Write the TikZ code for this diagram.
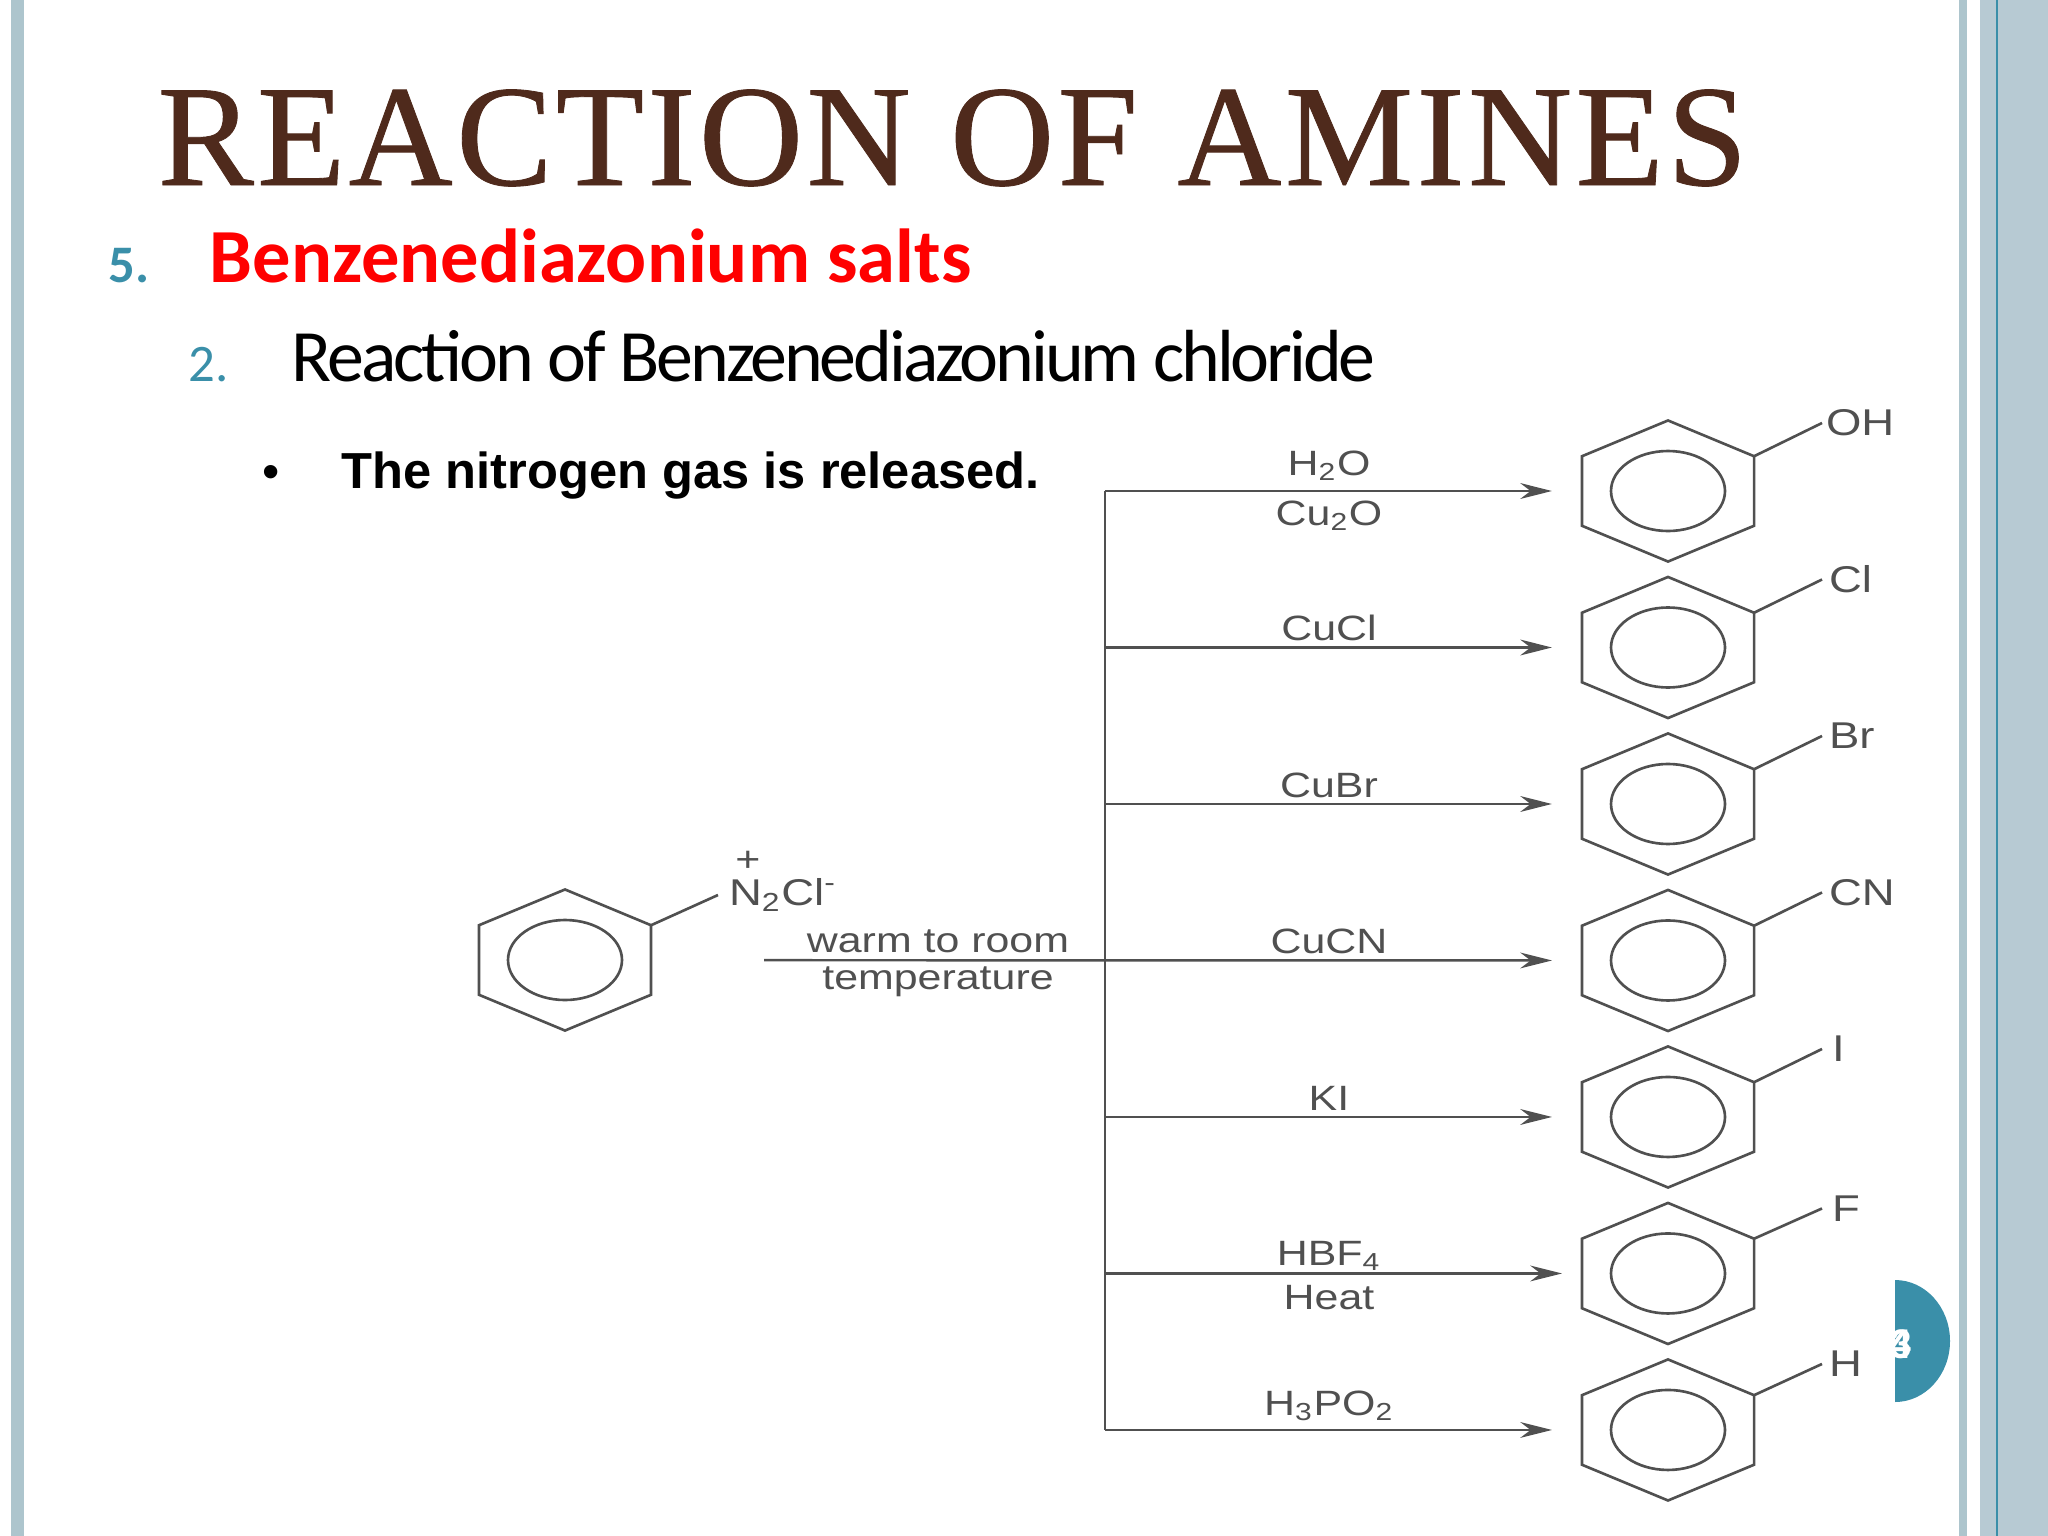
\documentclass[tikz,border=0pt]{standalone}
\usepackage{fontspec}
\setmainfont{Liberation Sans}
\newfontfamily\titlefont[LetterSpace=2.4,FakeBold=0.6]{Liberation Serif}
\newfontfamily\slidefont{Carlito}
\newfontfamily\tightfont[LetterSpace=-4.2]{Carlito}
\newfontfamily\chemfont[FakeStretch=1.22]{Liberation Sans}
\usepackage{tikz}
\usetikzlibrary{positioning,calc,arrows.meta}

\definecolor{barblue}{HTML}{B7CAD3}
\definecolor{barside}{HTML}{ADC5CD}
\definecolor{tealnum}{HTML}{3A8FA9}
\definecolor{titlebrown}{HTML}{4F2A1C}
\definecolor{inkgray}{HTML}{505050}

\tikzset{
  ring/.style={minimum width=1.72cm,minimum height=1.41cm,inner sep=0pt,outer sep=0pt},
  bond/.style={draw=inkgray,line width=0.75pt},
  branch/.style={-{Stealth[length=9pt,width=4.5pt]},draw=inkgray,line width=0.7pt,shorten >=0.30cm},
  reagent/.style={font=\chemfont\fontsize{10}{12}\selectfont,text=inkgray,inner sep=1pt},
  subst/.style={font=\chemfont\fontsize{10.6}{12}\selectfont,text=inkgray,anchor=west,inner sep=0.07cm,outer sep=0pt},
  pagedigit/.style={text=white,anchor=east,font=\slidefont\bfseries\fontsize{12.5}{14}\selectfont,inner sep=0pt},
  head/.style={anchor=base west,inner sep=0pt},
  node distance=0.154cm
}
\newcommand{\benzene}[1]{\draw[bond] (#1.north) -- (#1.22) -- (#1.338) -- (#1.south) -- (#1.202) -- (#1.158) -- cycle;
\draw[bond] (#1.center) ellipse [x radius=57,y radius=40];}
\newcommand{\sbs}[1]{\textsubscript{#1}}

\begin{document}
\begin{tikzpicture}[x=0.01cm,y=-0.01cm]
\useasboundingbox (0,0) rectangle (2048,1536);
% side bars
\fill[barside] (11,0) rectangle (24,1536);
\fill[barside] (1959,0) rectangle (1967,1536);
\fill[barblue] (1980,0) rectangle (2048,1536);
\fill[tealnum] (1996,0) rectangle (1998,1536);
% page number
\fill[tealnum] (1895,1280) arc [start angle=-90,end angle=90,x radius=55,y radius=61] -- cycle;
\begin{scope}
\clip (1895,1280) rectangle (1950,1402);
\node (pagea) [pagedigit] at (1912,1344) {3};
\node (pageb) [pagedigit] at (1912,1344) {4};
\end{scope}
% text
\node (title) [head,text=titlebrown,font=\titlefont\fontsize{41}{48}\selectfont] at (157,185) {REACTION OF AMINES};
\node (numa) [head,text=tealnum,font=\slidefont\bfseries\fontsize{15}{18}\selectfont] at (108,282) {5.};
\node (heada) [head,text=red,font=\slidefont\bfseries\fontsize{21.75}{26}\selectfont] at (209,282) {Benzenediazonium salts};
\node (numb) [head,text=tealnum,font=\slidefont\fontsize{15}{18}\selectfont] at (188,381) {2.};
\node (headb) [head,font=\tightfont\fontsize{21}{26}\selectfont] at (291,381) {Reaction of Benzenediazonium chloride};
\node (dot) [head,font=\fontsize{14}{17}\selectfont] at (262,488) {•};
\node (note) [head,font=\bfseries\fontsize{14.4}{17}\selectfont] at (341,488) {The nitrogen gas is released.};
% rings
\node (ringa) [ring] at (1668,491) {};
\node (ringb) [ring,below=of ringa] {};
\node (ringc) [ring,below=of ringb] {};
\node (ringd) [ring,below=of ringc] {};
\node (ringe) [ring,below=of ringd] {};
\node (ringf) [ring,below=of ringe] {};
\node (ringg) [ring,below=of ringf] {};
\node (ringh) [ring] at (565,960) {};
\benzene{ringa}
\benzene{ringb}
\benzene{ringc}
\benzene{ringd}
\benzene{ringe}
\benzene{ringf}
\benzene{ringg}
\benzene{ringh}
% substituents
\node (oh) [subst,inner xsep=0.04cm] at ($(ringa.center)+(154,-68)$) {OH};
\node (cl) [subst] at ($(ringb.center)+(154,-68)$) {Cl};
\node (br) [subst] at ($(ringc.center)+(154,-68)$) {Br};
\node (cn) [subst] at ($(ringd.center)+(154,-68)$) {CN};
\node (iod) [subst,inner xsep=0.1cm] at ($(ringe.center)+(154,-68)$) {I};
\node (flu) [subst,inner xsep=0.1cm] at ($(ringf.center)+(154,-65)$) {F};
\node (hyd) [subst] at ($(ringg.center)+(154,-66)$) {H};
\node (salt) [subst,inner xsep=0.11cm] at (718,895) {N\sbs{2}Cl\textsuperscript{-}};
\node (plus) [reagent,inner sep=0pt] at (748,861) {+};
\draw[bond] (ringa.22) -- (oh.west);
\draw[bond] (ringb.22) -- (cl.west);
\draw[bond] (ringc.22) -- (br.west);
\draw[bond] (ringd.22) -- (cn.west);
\draw[bond] (ringe.22) -- (iod.west);
\draw[bond] (ringf.22) -- (flu.west);
\draw[bond] (ringg.22) -- (hyd.west);
\draw[bond] (ringh.22) -- (salt.west);
% trunk and branches
\coordinate (feed) at (764,960.2);
\coordinate (ja) at (1105,491);
\coordinate (jb) at (ja |- ringb.west);
\coordinate (jc) at (ja |- ringc.west);
\coordinate (je) at (ja |- ringe.west);
\coordinate (jf) at (ja |- ringf.west);
\coordinate (jg) at (ja |- ringg.west);
\draw[bond] (ja)--(jg);
\draw[branch] (ja)--(ringa.west);
\draw[branch] (jb)--(ringb.west);
\draw[branch] (jc)--(ringc.west);
\draw[branch] (feed)--(ringd.west);
\draw[branch] (je)--(ringe.west);
\draw[branch,shorten >=0.20cm] (jf)--(ringf.west);
\draw[branch] (jg)--(ringg.west);
% reagents
\node (hto) [reagent] at (1329,466) {H\sbs{2}O};
\node (cuo) [reagent] at (1329,516) {Cu\sbs{2}O};
\node (cucl) [reagent] at (1329,628) {CuCl};
\node (cubr) [reagent] at (1329,785) {CuBr};
\node (cucn) [reagent] at (1329,941) {CuCN};
\node (ki) [reagent] at (1329,1098) {KI};
\node (hbf) [reagent] at (1329,1256) {HBF\sbs{4}};
\node (heat) [reagent] at (1329,1298) {Heat};
\node (hpo) [reagent] at (1329,1406) {H\sbs{3}PO\sbs{2}};
\node (warm) [reagent] at (938,941) {warm to room};
\node (temp) [reagent] at (938,982) {temperature};
\end{tikzpicture}
\end{document}
